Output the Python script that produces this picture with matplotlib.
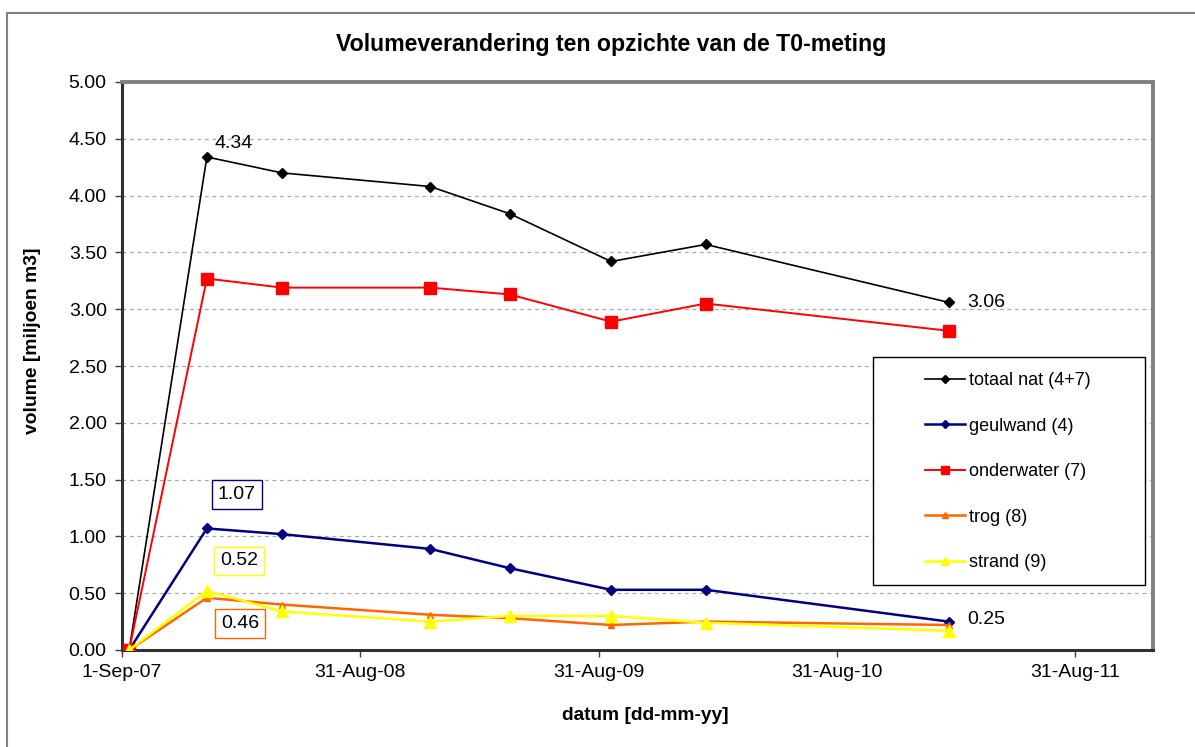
import matplotlib
matplotlib.use("Agg")
import matplotlib.pyplot as plt
from matplotlib.patches import Rectangle
import numpy as np
import datetime as dt

plt.rcParams["font.family"] = ["Liberation Sans", "DejaVu Sans"]

# meetdatums
dates = [dt.date(2007, 9, 12), dt.date(2008, 1, 9), dt.date(2008, 5, 3),
         dt.date(2008, 12, 16), dt.date(2009, 4, 17), dt.date(2009, 9, 19),
         dt.date(2010, 2, 11), dt.date(2011, 2, 18)]

# volumes [miljoen m3]
totaal_nat = [0.00, 4.34, 4.20, 4.08, 3.84, 3.42, 3.57, 3.06]
geulwand = [0.00, 1.07, 1.02, 0.89, 0.72, 0.53, 0.53, 0.25]
onderwater = [0.00, 3.27, 3.19, 3.19, 3.13, 2.89, 3.05, 2.81]
trog = [0.00, 0.46, 0.40, 0.31, 0.28, 0.22, 0.25, 0.22]
strand = [0.00, 0.52, 0.34, 0.25, 0.30, 0.30, 0.24, 0.17]

series_names = ["totaal nat (4+7)", "geulwand (4)", "onderwater (7)", "trog (8)", "strand (9)"]

x_ticks = [dt.date(2007, 9, 1), dt.date(2008, 8, 31), dt.date(2009, 8, 31),
           dt.date(2010, 8, 31), dt.date(2011, 8, 31)]
x_tick_labels = ["1-Sep-07", "31-Aug-08", "31-Aug-09", "31-Aug-10", "31-Aug-11"]
y_ticks = np.arange(0, 5.01, 0.5)

W, H = 1195, 747
AX_L, AX_R, AX_T, AX_B = 122, 1153, 82, 650
AW, AH = AX_R - AX_L, AX_B - AX_T

fig = plt.figure(figsize=(W / 100, H / 100), dpi=100)
ax = fig.add_axes([AX_L / W, 1 - AX_B / H, AW / W, AH / H])

# outer chart border (partly cropped)
fig.patches.append(Rectangle((7 / W, -0.1), 1.2, 1 - 13 / H + 0.1, transform=fig.transFigure,
                             fill=False, edgecolor="#808080", linewidth=1.5))

ax.plot(dates, totaal_nat, color="black", lw=1.2, marker="D", ms=5.5, label=series_names[0], zorder=3)
ax.plot(dates, geulwand, color="#000080", lw=1.8, marker="D", ms=5.5, label=series_names[1], zorder=3)
ax.plot(dates, onderwater, color="#FF0000", lw=1.4, marker="s", ms=8, label=series_names[2], zorder=3)
ax.plot(dates, trog, color="#FF6600", lw=1.8, marker="^", ms=5, label=series_names[3], zorder=3)
ax.plot(dates, strand, color="#FFFF00", lw=1.8, marker="^", ms=8.5, label=series_names[4], zorder=3)

ax.set_xlim(dt.date(2007, 9, 1), dt.date(2011, 12, 28))
ax.set_ylim(0, 5)
ax.set_xticks(x_ticks)
ax.set_xticklabels(x_tick_labels)
ax.set_yticks(y_ticks)
ax.set_yticklabels(["%.2f" % v for v in y_ticks])
ax.tick_params(axis="both", labelsize=14, direction="out", length=5, width=1, color="#404040")
ax.tick_params(axis="y", pad=6)
ax.tick_params(axis="x", pad=5)

for v in y_ticks[1:-1]:
    ax.axhline(v, color="#A8A8A8", lw=0.9, ls=(0, (3, 3)), zorder=1)

for s in ["left", "bottom"]:
    ax.spines[s].set_color("#303030")
    ax.spines[s].set_linewidth(2.2)
for s in ["top", "right"]:
    ax.spines[s].set_color("#808080")
    ax.spines[s].set_linewidth(2.8)

fig.text(611 / W, 1 - 45 / H, "Volumeverandering ten opzichte van de T0-meting",
         ha="center", va="center", fontsize=16.7, fontweight="bold")
ax.set_ylabel("volume [miljoen m3]", fontsize=13.9, fontweight="bold")
ax.yaxis.set_label_coords((41 - AX_L) / AW, (AX_B - 341) / AH)
ax.set_xlabel("datum [dd-mm-yy]", fontsize=13.8, fontweight="bold")
ax.xaxis.set_label_coords((645 - AX_L) / AW, (AX_B - 707) / AH)

# data labels
plain = dict(textcoords="offset pixels", fontsize=14, va="center", ha="left")
ax.annotate("%.2f" % totaal_nat[1], (dates[1], totaal_nat[1]), xytext=(8, 13), **plain)
ax.annotate("%.2f" % totaal_nat[-1], (dates[-1], totaal_nat[-1]), xytext=(19, 0), **plain)
ax.annotate("%.2f" % geulwand[-1], (dates[-1], geulwand[-1]), xytext=(19, 2), **plain)

boxed = dict(textcoords="offset pixels", fontsize=14, va="center", ha="center")
ax.annotate("%.2f" % geulwand[1], (dates[1], geulwand[1]), xytext=(30, 34),
            bbox=dict(boxstyle="square,pad=0.3", fc="white", ec="#000080", lw=1), **boxed)
ax.annotate("%.2f" % strand[1], (dates[1], strand[1]), xytext=(32, 30),
            bbox=dict(boxstyle="square,pad=0.3", fc="white", ec="#FFFF00", lw=1), **boxed)
ax.annotate("%.2f" % trog[1], (dates[1], trog[1]), xytext=(33, -26),
            bbox=dict(boxstyle="square,pad=0.3", fc="white", ec="#FF6600", lw=1), **boxed)

# legend with its own frame
ax.add_patch(Rectangle(((873 - AX_L) / AW, (AX_B - 585) / AH), (1145 - 873) / AW, (585 - 357) / AH,
                       transform=ax.transAxes, fc="white", ec="black", lw=1, zorder=4))
leg = ax.legend(loc="upper left", bbox_to_anchor=((925 - AX_L) / AW, (AX_B - 372) / AH),
                frameon=False, fontsize=13, handlelength=2.2, handletextpad=0.25,
                labelspacing=1.58, borderpad=0, borderaxespad=0, markerscale=0.75)
leg.set_zorder(5)

fig.savefig("out.png", dpi=100)
